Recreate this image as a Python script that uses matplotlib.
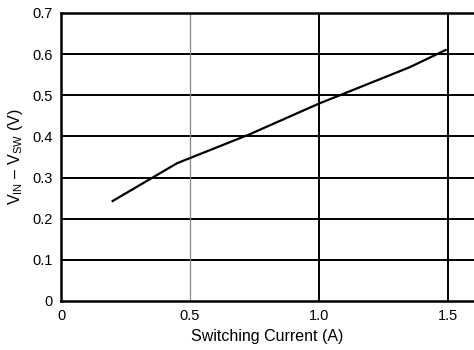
import matplotlib
matplotlib.use("Agg")
import matplotlib.pyplot as plt

plt.rcParams['font.family'] = ['Liberation Sans', 'DejaVu Sans']
plt.rcParams['mathtext.fontset'] = 'custom'
plt.rcParams['mathtext.rm'] = 'Liberation Sans'
plt.rcParams['mathtext.it'] = 'Liberation Sans'

current = [0.2, 0.45, 0.73, 1.0, 1.08, 1.35, 1.49]
voltage = [0.243, 0.335, 0.405, 0.48, 0.50, 0.568, 0.61]
xticks = [0, 0.5, 1.0, 1.5]
xtick_labels = ['0', '0.5', '1.0', '1.5']
yticks = [0, 0.1, 0.2, 0.3, 0.4, 0.5, 0.6, 0.7]
ytick_labels = ['0', '0.1', '0.2', '0.3', '0.4', '0.5', '0.6', '0.7']

fig = plt.figure(figsize=(4.74, 3.5), dpi=100)
ax = fig.add_axes([61/474, 49/350, 1 - 61/474, (301 - 13)/350])

# horizontal grid
for y in yticks[1:]:
    ax.axhline(y, color='black', lw=1.4, zorder=1)
# vertical grid: light at 0.5, heavy at 1.0 and 1.5
ax.axvline(0.5, color='#888888', lw=0.9, zorder=1)
ax.axvline(1.0, color='black', lw=1.4, zorder=1)
ax.axvline(1.5, color='black', lw=1.4, zorder=1)

ax.plot(current, voltage, color='black', lw=1.6, zorder=3)

ax.set_xlim(0, 1.6)
ax.set_ylim(0, 0.7)
ax.set_xticks(xticks)
ax.set_xticklabels(xtick_labels)
ax.set_yticks(yticks)
ax.set_yticklabels(ytick_labels)
ax.tick_params(length=0, labelsize=10.5, pad=6, colors='black')

for side in ['left', 'bottom', 'top']:
    ax.spines[side].set_linewidth(1.8)
    ax.spines[side].set_color('black')
ax.spines['right'].set_visible(False)

ax.set_xlabel('Switching Current (A)', fontsize=11.5, labelpad=4)
ax.set_ylabel(r'V$_{\mathrm{IN}}$ – V$_{\mathrm{SW}}$ (V)', fontsize=11.5, labelpad=5)

fig.savefig('out.png', dpi=100)
